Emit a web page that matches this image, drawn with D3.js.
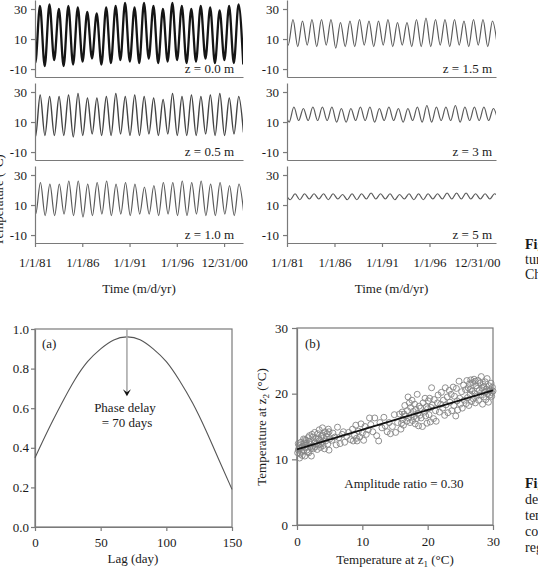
<!DOCTYPE html>
<html>
<head>
<meta charset="utf-8">
<script src="https://cdn.jsdelivr.net/npm/d3@7"></script>
<style>
body { margin: 0; background: #fff; }
svg { display: block; font-family: "Liberation Serif", "Times New Roman", serif; }
</style>
</head>
<body>
<div id="container"></div>
<script>
// ---- time series: seasonal highs (summer, 1980..2002) and lows (winter, 1981..2003) per depth
var depthLabels = ["z = 0.0 m", "z = 0.5 m", "z = 1.0 m", "z = 1.5 m", "z = 3 m", "z = 5 m"];
var peakDay = [193, 200, 210, 230, 265, 310];
var hi00 = [31, 32, 33, 30, 32, 31, 28, 27, 31, 32, 34, 31, 34, 32, 30, 34, 32, 30, 32, 31, 29, 32, 33];
var lo00 = [-6, -8, -4, -8, -7, -5, -3, -7, -6, -4, -5, -6, -3, -6, -5, -4, -6, -5, -3, -6, -4, -6, -7];
var hi05 = [27, 28, 27, 27, 28, 29, 26, 26, 27, 29, 27, 28, 27, 26, 25, 29, 27, 28, 27, 28, 29, 26, 27];
var lo05 = [0, 1, 1, 1, 0, 1, 2, 1, 1, 2, 1, 1, 2, 1, 2, 1, 1, 1, 2, 1, 1, 2, 3];
var hi10 = [25, 25, 24, 24, 26, 26, 24, 25, 26, 24, 25, 24, 22, 23, 25, 25, 26, 25, 26, 24, 25, 23, 24];
var lo10 = [4, 3, 3, 4, 3, 2, 3, 4, 3, 4, 3, 4, 4, 3, 4, 3, 3, 4, 3, 3, 4, 3, 5];
var hi15 = [23, 23, 22, 23, 23, 23, 21, 22, 23, 22, 22, 23, 21, 21, 23, 24, 23, 23, 23, 22, 23, 23, 22];
var lo15 = [6, 5, 6, 5, 6, 4, 5, 5, 6, 5, 6, 5, 6, 5, 5, 5, 6, 5, 6, 5, 6, 5, 6];
var hi30 = [20, 20, 19, 20, 20, 20, 19, 19, 20, 20, 19, 20, 19, 19, 20, 21, 20, 20, 21, 20, 20, 20, 19];
var lo30 = [10, 11, 11, 11, 11, 10, 10, 11, 11, 10, 11, 11, 10, 11, 10, 10, 11, 11, 10, 11, 11, 11, 10];
var hi50 = [17.5, 17.5, 17.5, 17.5, 17.5, 17.5, 17, 17.5, 17.5, 18, 17.5, 17.5, 17, 17.5, 17.5, 17.5, 17.5, 18, 18, 18, 17.5, 17.5, 17.5];
var lo50 = [13.5, 13.5, 14, 14, 13.5, 14, 13.5, 13.5, 14, 14, 14, 13.5, 14, 13.5, 13.5, 14, 14, 14, 14, 14, 14, 14, 14];
var highs = [hi00, hi05, hi10, hi15, hi30, hi50];
var lows = [lo00, lo05, lo10, lo15, lo30, lo50];
var firstYear = 1980;
var yTicksTS = [-10, 10, 30];
var dateTicks = ["1981-01-01", "1986-01-01", "1991-01-01", "1996-01-01", "2000-12-31"];
var dateTickLabels = ["1/1/81", "1/1/86", "1/1/91", "1/1/96", "12/31/00"];

// ---- (a) cross-correlation vs lag
var lagDays = [0, 10, 20, 30, 40, 50, 60, 70, 80, 90, 100, 110, 120, 130, 140, 150];
var corr = [0.35, 0.49, 0.62, 0.74, 0.835, 0.9, 0.945, 0.96, 0.946, 0.9, 0.835, 0.74, 0.626, 0.49, 0.34, 0.19];
var phaseDelay = 70;

// ---- (b) temperature at z2 vs z1
var scatterPts = [
 [0.1,11.0],[0.2,11.4],[0.3,12.1],[0.4,10.2],[0.5,11.7],[0.6,12.6],[0.7,11.2],[0.8,10.6],[0.9,12.0],[1.0,13.1],
 [0.2,12.4],[0.5,10.8],[0.8,11.9],[1.0,11.3],[0.3,11.7],[1.1,12.5],[1.2,10.5],[1.3,11.8],[1.4,12.9],[1.5,11.4],
 [1.6,12.2],[1.7,13.3],[1.8,11.0],[1.9,12.7],[2.0,11.9],[1.3,12.4],[1.6,11.1],[1.9,13.6],[1.2,13.0],[2.1,12.3],
 [2.2,10.5],[2.3,13.8],[2.4,12.0],[2.5,11.6],[2.6,12.8],[2.7,14.1],[2.8,11.9],[2.9,13.2],[3.0,12.4],[2.4,13.4],
 [2.7,12.5],[2.2,11.7],[3.1,11.5],[3.2,13.9],[3.3,12.2],[3.4,14.5],[3.5,12.9],[3.6,11.8],[3.7,13.5],[3.8,12.6],
 [3.9,14.8],[4.0,12.1],[3.3,13.1],[3.6,12.4],[3.9,13.7],[4.1,13.3],[4.2,11.6],[4.3,14.2],[4.4,12.8],[4.6,13.9],
 [4.7,12.3],[4.8,14.6],[4.9,11.4],[5.0,13.1],[4.5,13.5],[4.9,14.2],[5.3,12.9],[5.5,14.0],[5.8,13.4],[6.0,12.2],
 [6.2,14.9],[6.4,13.3],[6.6,12.4],[6.9,13.8],[7.1,14.2],[7.3,12.6],[7.6,13.5],[7.9,14.1],[8.2,13.0],[8.5,14.6],
 [8.8,13.7],[9.0,15.2],[9.2,12.8],[9.4,14.3],[9.6,13.4],[9.8,15.4],[10.0,14.0],[9.1,13.2],[8.6,12.8],[10.2,12.9],
 [10.4,15.0],[10.6,13.8],[10.9,14.5],[11.1,16.3],[11.3,15.3],[11.6,14.2],[11.9,16.3],[12.2,13.6],[12.5,12.8],[12.7,15.6],
 [13.0,14.8],[13.3,16.4],[13.5,15.1],[13.8,14.2],[14.1,15.6],[14.3,13.9],[14.6,15.0],[14.9,16.8],[15.1,14.1],[15.4,15.6],
 [15.7,16.9],[15.9,14.6],[16.0,15.5],[16.1,17.2],[16.2,16.1],[16.3,15.2],[16.5,18.2],[16.6,16.6],[16.8,15.8],[16.9,17.4],
 [17.0,19.5],[17.1,16.3],[17.3,15.6],[17.4,17.9],[17.5,16.8],[17.6,19.0],[17.7,15.9],[17.8,17.3],[17.9,16.5],[18.0,18.4],
 [16.4,16.9],[17.2,18.6],[18.1,15.4],[18.2,17.6],[18.3,16.2],[18.4,19.9],[18.5,17.0],[18.6,15.1],[18.7,18.1],[18.8,16.7],
 [18.9,17.8],[19.0,16.3],[19.2,15.0],[19.3,18.6],[19.5,17.2],[19.6,19.3],[19.7,16.6],[19.8,18.0],[19.9,15.5],[20.0,17.7],
 [20.1,18.9],[20.2,16.8],[20.3,19.3],[20.4,15.7],[20.5,17.9],[20.6,20.9],[20.7,18.3],[20.9,16.2],[21.0,19.1],[21.2,17.4],
 [21.3,15.8],[21.5,18.6],[21.6,19.8],[21.8,17.2],[22.0,18.4],[22.1,20.2],[22.3,17.8],[22.4,19.0],[22.6,16.7],[22.7,20.9],
 [22.8,18.3],[23.0,19.5],[23.1,17.1],[23.3,20.5],[23.4,18.7],[23.6,19.9],[23.7,17.4],[23.9,21.0],[24.0,18.2],[24.1,19.6],
 [24.3,16.6],[24.4,20.8],[24.5,18.9],[24.6,17.5],[24.8,21.9],[24.9,19.3],[25.0,18.4],[25.2,20.3],[25.3,17.8],[25.5,21.3],
 [25.6,19.0],[25.8,20.6],[25.9,18.5],[26.0,22.0],[26.1,19.4],[26.2,20.9],[26.3,18.2],[26.4,21.5],[26.5,19.9],[26.6,22.1],
 [26.7,18.8],[26.8,20.4],[26.9,21.7],[27.0,19.2],[27.1,22.2],[27.2,20.0],[27.3,18.6],[27.4,21.2],[27.5,19.6],[27.6,20.8],
 [27.7,22.0],[27.8,19.0],[27.9,20.5],[28.0,21.6],[26.5,20.6],[27.3,21.9],[28.1,19.8],[28.2,22.6],[28.3,20.9],[28.4,18.4],
 [28.5,21.4],[28.6,19.5],[28.7,20.2],[28.8,21.8],[28.9,19.1],[29.0,20.7],[29.1,22.3],[29.2,20.0],[29.3,18.7],[29.4,21.2],
 [29.5,19.8],[29.6,20.6],[29.7,21.6],[29.8,20.2],[29.9,21.0],[30.0,20.4],[28.6,21.1],[29.4,20.5],[29.8,19.6],[28.9,20.3]
];
var fitIntercept = 11.5, fitSlope = 0.30;

var W = 538, H = 570;
var axisGray = "#7a7a7a", textCol = "#1a1a1a";
var serif = "'Liberation Serif', 'Times New Roman', serif";
var svg = d3.select("#container").append("svg").attr("width", W).attr("height", H);
var plain = function(d){ return String(d); };   // hyphen minus like the original

var styleAxis = function(g){
    g.selectAll(".domain").attr("stroke", axisGray).attr("stroke-width", 1.2);
    g.selectAll(".tick line").attr("stroke", axisGray).attr("stroke-width", 1.2);
    g.selectAll(".tick text").attr("fill", textCol).style("font-size", "13px")
        .style("font-family", serif);
};

// ================= time series panels =================
var cols = [{x0: 35, x1: 243, labelPad: 9}, {x0: 287, x1: 496, labelPad: 4}];
var rowTops = [0, 83, 166], rowH = 77;
var yearToDate = function(y){
    var yr = Math.floor(y);
    var start = Date.UTC(yr, 0, 1), end = Date.UTC(yr + 1, 0, 1);
    return new Date(start + (y - yr) * (end - start));
};
var tickDates = dateTicks.map(function(s){ return new Date(s + "T00:00:00Z"); });

depthLabels.forEach(function(label, i){
    var c = cols[Math.floor(i / 3)], row = i % 3;
    var top = rowTops[row], bottom = top + rowH;
    var x = d3.scaleUtc().domain([new Date(Date.UTC(1981, 0, 1)), new Date(Date.UTC(2003, 0, 1))]).range([c.x0, c.x1]);
    var y = d3.scaleLinear().domain([-15.3, 36]).range([bottom, top]);
    var g = svg.append("g");

    var clipId = "clip" + i;
    svg.append("clipPath").attr("id", clipId).append("rect")
        .attr("x", c.x0).attr("y", top - 6).attr("width", c.x1 - c.x0).attr("height", rowH + 6);

    // alternate summer highs and winter lows
    var pts = [];
    var frac = peakDay[i] / 365;
    for (var k = 0; k < highs[i].length; k++){
        pts.push([firstYear + k + frac, highs[i][k]]);
        pts.push([firstYear + k + frac + 0.5, lows[i][k]]);
    }
    var line = d3.line()
        .x(function(d){ return x(yearToDate(d[0])); })
        .y(function(d){ return y(d[1]); })
        .curve(d3.curveMonotoneX);
    g.append("path").datum(pts)
        .attr("clip-path", "url(#" + clipId + ")")
        .attr("fill", "none")
        .attr("stroke", i === 0 ? "#151515" : (i === 1 ? "#444" : "#5a5a5a"))
        .attr("stroke-width", i === 0 ? 2.3 : (i === 1 ? 1.4 : 1.2))
        .attr("d", line);

    var ya = g.append("g").attr("transform", "translate(" + c.x0 + ",0)")
        .call(d3.axisLeft(y).tickValues(yTicksTS).tickFormat(plain).tickSize(4).tickPadding(4).tickSizeOuter(0));
    styleAxis(ya);

    var xa = g.append("g").attr("transform", "translate(0," + bottom + ")");
    if (row === 2){
        xa.call(d3.axisBottom(x).tickValues(tickDates).tickSize(4).tickPadding(11).tickSizeOuter(0)
            .tickFormat(function(d, j){ return dateTickLabels[j]; }));
    } else {
        xa.call(d3.axisBottom(x).tickValues([]).tickSizeOuter(0));
    }
    styleAxis(xa);

    g.append("text")
        .attr("x", c.x1 - c.labelPad).attr("y", bottom - 4)
        .attr("text-anchor", "end").attr("fill", textCol).style("font-size", "13px")
        .text(label);

    if (row === 2){
        g.append("text")
            .attr("x", (c.x0 + c.x1) / 2).attr("y", bottom + 50)
            .attr("text-anchor", "middle").attr("fill", textCol).style("font-size", "13px")
            .text("Time (m/d/yr)");
    }
});

// shared y title, mostly cut off at the page edge
svg.append("text")
    .attr("transform", "translate(3,200) rotate(-90)")
    .attr("text-anchor", "middle").attr("fill", textCol).style("font-size", "13px")
    .text("Temperature (\u00B0C)");

// ================= (a) =================
var xa_ = d3.scaleLinear().domain([0, 150]).range([35, 232]);
var ya_ = d3.scaleLinear().domain([0, 1]).range([527, 329]);
var ga = svg.append("g");
ga.append("rect").attr("x", 35).attr("y", 329).attr("width", 197).attr("height", 198)
    .attr("fill", "none").attr("stroke", axisGray).attr("stroke-width", 1.2);
styleAxis(ga.append("g").attr("transform", "translate(35,0)")
    .call(d3.axisLeft(ya_).tickValues([0, 0.2, 0.4, 0.6, 0.8, 1.0]).tickFormat(d3.format(".1f"))
        .tickSize(4).tickPadding(2).tickSizeOuter(0)));
styleAxis(ga.append("g").attr("transform", "translate(0,527)")
    .call(d3.axisBottom(xa_).tickValues([0, 50, 100, 150]).tickSize(4).tickPadding(7).tickSizeOuter(0)));
ga.append("path").datum(d3.zip(lagDays, corr))
    .attr("fill", "none").attr("stroke", "#555").attr("stroke-width", 1.1)
    .attr("d", d3.line().x(function(d){ return xa_(d[0]); }).y(function(d){ return ya_(d[1]); }).curve(d3.curveNatural));
// phase-delay arrow
var ax = xa_(phaseDelay), tipY = ya_(0.66);
ga.append("line")
    .attr("x1", ax).attr("x2", ax)
    .attr("y1", ya_(1.0)).attr("y2", tipY - 2)
    .attr("stroke", "#aaa").attr("stroke-width", 1.6);
ga.append("path")
    .attr("d", "M" + (ax - 4) + "," + (tipY - 7) + " L" + ax + "," + tipY +
        " L" + (ax + 4) + "," + (tipY - 7) + " L" + ax + "," + (tipY - 4) + " Z")
    .attr("fill", "#111");
ga.append("text").attr("x", 125).attr("y", 412).attr("text-anchor", "middle")
    .attr("fill", textCol).style("font-size", "13px").text("Phase delay");
ga.append("text").attr("x", 127).attr("y", 427).attr("text-anchor", "middle")
    .attr("fill", textCol).style("font-size", "13px").text("= " + phaseDelay + " days");
ga.append("text").attr("x", 42).attr("y", 348).attr("fill", textCol).style("font-size", "13px").text("(a)");
ga.append("text").attr("x", 133).attr("y", 563).attr("text-anchor", "middle")
    .attr("fill", textCol).style("font-size", "13px").text("Lag (day)");

// ================= (b) =================
var xb = d3.scaleLinear().domain([0, 30]).range([297, 493]);
var yb = d3.scaleLinear().domain([0, 30]).range([525, 328]);
var gb = svg.append("g");
gb.append("rect").attr("x", 297).attr("y", 328).attr("width", 196).attr("height", 197)
    .attr("fill", "none").attr("stroke", axisGray).attr("stroke-width", 1.2);
styleAxis(gb.append("g").attr("transform", "translate(297,0)")
    .call(d3.axisLeft(yb).tickValues([0, 10, 20, 30]).tickSize(5).tickPadding(4).tickSizeOuter(0)));
styleAxis(gb.append("g").attr("transform", "translate(0,525)")
    .call(d3.axisBottom(xb).tickValues([0, 10, 20, 30]).tickSize(5).tickPadding(7).tickSizeOuter(0)));
gb.append("g").selectAll("circle").data(scatterPts).enter().append("circle")
    .attr("cx", function(d){ return xb(d[0]); })
    .attr("cy", function(d){ return yb(d[1]); })
    .attr("r", 3)
    .attr("fill", "none").attr("stroke", "#858585").attr("stroke-width", 0.9);
gb.append("line")
    .attr("x1", xb(0)).attr("y1", yb(fitIntercept))
    .attr("x2", xb(30)).attr("y2", yb(fitIntercept + 30 * fitSlope))
    .attr("stroke", "#111").attr("stroke-width", 1.8);
gb.append("text").attr("x", 305).attr("y", 348).attr("fill", textCol).style("font-size", "13px").text("(b)");
gb.append("text").attr("x", 404).attr("y", 488).attr("text-anchor", "middle")
    .attr("fill", textCol).style("font-size", "13px").text("Amplitude ratio = " + fitSlope.toFixed(2));
var xt = gb.append("text").attr("x", 395).attr("y", 564).attr("text-anchor", "middle")
    .attr("fill", textCol).style("font-size", "13px");
xt.append("tspan").text("Temperature at z");
xt.append("tspan").attr("dy", 3).style("font-size", "9px").text("1");
xt.append("tspan").attr("dy", -3).text(" (\u00B0C)");
var yt = gb.append("text").attr("transform", "translate(266,427) rotate(-90)").attr("text-anchor", "middle")
    .attr("fill", textCol).style("font-size", "13px");
yt.append("tspan").text("Temperature at z");
yt.append("tspan").attr("dy", 3).style("font-size", "9px").text("2");
yt.append("tspan").attr("dy", -3).text(" (\u00B0C)");

// ================= caption fragments at the right edge =================
var cap1 = ["Fig. 2", "tures", "China"], cap2 = ["Fig. 3", "derived", "temperature", "correlation", "regression"];
cap1.forEach(function(t, i){
    svg.append("text").attr("x", 525).attr("y", 249 + i * 15).attr("fill", textCol)
        .style("font-size", "14px").style("font-weight", i === 0 ? "bold" : "normal").text(t);
});
cap2.forEach(function(t, i){
    svg.append("text").attr("x", 525).attr("y", 488 + i * 16).attr("fill", textCol)
        .style("font-size", "14px").style("font-weight", i === 0 ? "bold" : "normal").text(t);
});
</script>
</body>
</html>
